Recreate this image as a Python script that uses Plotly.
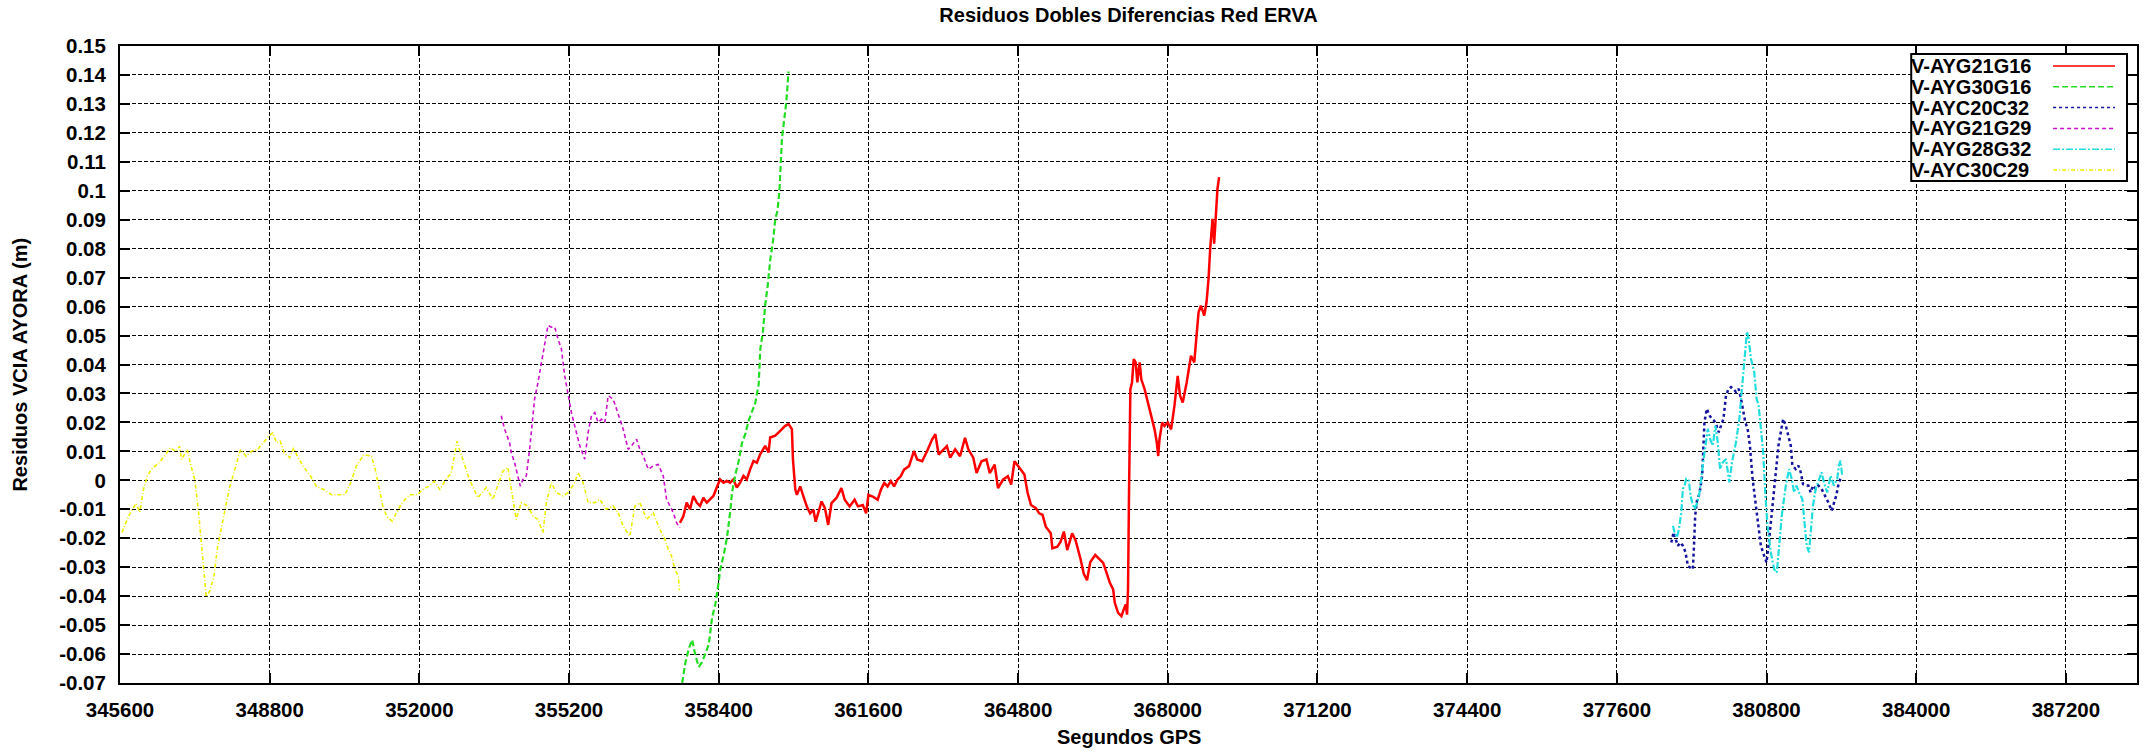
import plotly.graph_objects as go

# ---------------------------------------------------------------- text
title_text = "Residuos Dobles Diferencias Red ERVA"
x_title = "Segundos GPS"
y_title = "Residuos VCIA AYORA (m)"

x_tick_labels = ["345600", "348800", "352000", "355200", "358400", "361600", "364800",
                 "368000", "371200", "374400", "377600", "380800", "384000", "387200"]
y_tick_labels = ["-0.07", "-0.06", "-0.05", "-0.04", "-0.03", "-0.02", "-0.01", "0",
                 "0.01", "0.02", "0.03", "0.04", "0.05", "0.06", "0.07", "0.08", "0.09",
                 "0.1", "0.11", "0.12", "0.13", "0.14", "0.15"]

# ---------------------------------------------------------------- series (GPS seconds, residual in m)
names = ["V-AYG21G16", "V-AYG30G16", "V-AYC20C32", "V-AYG21G29", "V-AYG28G32", "V-AYC30C29"]

t_g21g16 = [357571, 357643, 357714, 357786, 357857, 357929, 358000, 358071, 358143, 358214,
            358286, 358357, 358429, 358500, 358571, 358643, 358714, 358786, 358857, 358929,
            359000, 359071, 359143, 359214, 359286, 359393, 359464, 359500, 359607, 359714,
            359821, 359893, 359964, 359986, 360036, 360071, 360141, 360212, 360282, 360353,
            360423, 360472, 360529, 360599, 360670, 360740, 360811, 360916, 361022, 361093,
            361198, 361304, 361374, 361480, 361551, 361600, 361692, 361797, 361868, 361938,
            362009, 362079, 362150, 362220, 362291, 362361, 362467, 362573, 362643, 362749,
            362855, 362960, 363031, 363101, 363172, 363277, 363348, 363454, 363559, 363665,
            363736, 363841, 363912, 364017, 364123, 364194, 364299, 364370, 364476, 364581,
            364652, 364722, 364828, 364934, 365004, 365075, 365180, 365251, 365321, 365392,
            365498, 365533, 365639, 365709, 365779, 365850, 365956, 366026, 366132, 366202,
            366273, 366343, 366449, 366549, 366619, 366690, 366761, 366832, 366867, 366938,
            367009, 367058, 367101, 367129, 367150, 367172, 367200, 367235, 367271, 367313,
            367349, 367398, 367434, 367504, 367575, 367646, 367717, 367766, 367795, 367823,
            367880, 367929, 368000, 368071, 368142, 368212, 368262, 368319, 368404, 368496,
            368566, 368602, 368658, 368708, 368779, 368828, 368871, 368906, 368956, 368991,
            369027, 369062, 369097]
r_g21g16 = [-0.0147, -0.0124, -0.0077, -0.0100, -0.0054, -0.0077, -0.0089, -0.0060, -0.0077, -0.0066,
            -0.0054, -0.0025, 0.0003, -0.0008, -0.0002, -0.0008, 0.0003, -0.0025, -0.0008, 0.0015,
            0.0003, 0.0038, 0.0067, 0.0061, 0.0090, 0.0119, 0.0096, 0.0148, 0.0154, 0.0171,
            0.0188, 0.0194, 0.0177, 0.0073, -0.0031, -0.0050, -0.0021, -0.0056, -0.0090, -0.0114,
            -0.0102, -0.0143, -0.0108, -0.0073, -0.0096, -0.0154, -0.0079, -0.0061, -0.0027, -0.0067,
            -0.0090, -0.0067, -0.0090, -0.0085, -0.0114, -0.0050, -0.0056, -0.0067, -0.0032, -0.0009,
            -0.0021, -0.0003, -0.0021, 0.0002, 0.0014, 0.0037, 0.0049, 0.0101, 0.0072, 0.0066,
            0.0101, 0.0141, 0.0159, 0.0089, 0.0101, 0.0118, 0.0078, 0.0107, 0.0083, 0.0147,
            0.0107, 0.0078, 0.0025, 0.0066, 0.0072, 0.0025, 0.0054, -0.0027, 0.0002, 0.0014,
            -0.0015, 0.0066, 0.0043, 0.0020, -0.0044, -0.0085, -0.0096, -0.0114, -0.0119, -0.0160,
            -0.0183, -0.0235, -0.0229, -0.0212, -0.0177, -0.0241, -0.0183, -0.0206, -0.0270, -0.0322,
            -0.0345, -0.0282, -0.0258, -0.0273, -0.0285, -0.0319, -0.0354, -0.0377, -0.0423, -0.0458,
            -0.0469, -0.0446, -0.0429, -0.0464, -0.0377, -0.0031, 0.0315, 0.0338, 0.0419, 0.0407,
            0.0338, 0.0407, 0.0349, 0.0315, 0.0269, 0.0223, 0.0176, 0.0130, 0.0084, 0.0142,
            0.0200, 0.0188, 0.0200, 0.0176, 0.0257, 0.0361, 0.0292, 0.0269, 0.0338, 0.0430,
            0.0407, 0.0476, 0.0580, 0.0603, 0.0569, 0.0615, 0.0696, 0.0799, 0.0903, 0.0817,
            0.0926, 0.1007, 0.1047]

t_g30g16 = [357618, 357653, 357689, 357760, 357831, 357902, 357973, 358044, 358116, 358187,
            358258, 358329, 358400, 358436, 358507, 358578, 358649, 358684, 358756, 358827,
            358898, 358969, 359040, 359111, 359182, 359253, 359289, 359346, 359395, 359445,
            359502, 359559, 359609, 359658, 359701, 359751, 359801, 359843, 359893]
r_g30g16 = [-0.0700, -0.0660, -0.0628, -0.0582, -0.0551, -0.0605, -0.0644, -0.0628, -0.0597, -0.0567,
            -0.0474, -0.0427, -0.0350, -0.0304, -0.0257, -0.0196, -0.0103, -0.0042, 0.0020, 0.0067,
            0.0129, 0.0160, 0.0206, 0.0237, 0.0268, 0.0330, 0.0454, 0.0515, 0.0608, 0.0670,
            0.0763, 0.0825, 0.0902, 0.0933, 0.1010, 0.1180, 0.1257, 0.1304, 0.1412]

t_c20c32 = [378764, 378813, 378856, 378906, 378955, 379012, 379069, 379118, 379168, 379225,
            379246, 379275, 379317, 379367, 379424, 379473, 379523, 379580, 379636, 379707,
            379778, 379828, 379878, 379934, 379991, 380041, 380090, 380147, 380204, 380254,
            380303, 380346, 380396, 380445, 380502, 380573, 380630, 380679, 380750, 380800,
            380857, 380914, 380963, 381013, 381055, 381105, 381155, 381212, 381268, 381318,
            381353, 381424, 381481, 381531, 381580, 381637, 381694, 381744, 381793, 381850,
            381907, 381978, 382049, 382120, 382191, 382240, 382290, 382347, 382382]
r_c20c32 = [-0.0215, -0.0180, -0.0203, -0.0226, -0.0215, -0.0226, -0.0249, -0.0296, -0.0301, -0.0307,
            -0.0238, -0.0122, -0.0065, -0.0047, 0.0016, 0.0201, 0.0247, 0.0224, 0.0212, 0.0201,
            0.0166, 0.0189, 0.0212, 0.0293, 0.0316, 0.0322, 0.0316, 0.0305, 0.0316, 0.0282,
            0.0236, 0.0201, 0.0178, 0.0120, 0.0005, -0.0088, -0.0169, -0.0226, -0.0261, -0.0284,
            -0.0203, -0.0111, -0.0042, 0.0028, 0.0120, 0.0166, 0.0212, 0.0189, 0.0155, 0.0120,
            0.0051, 0.0039, 0.0051, 0.0028, -0.0013, -0.0018, -0.0018, -0.0042, -0.0018, -0.0030,
            -0.0018, -0.0030, -0.0053, -0.0076, -0.0105, -0.0082, -0.0053, -0.0007, 0.0005]

t_g21g29 = [353750, 353821, 353929, 353964, 354036, 354107, 354157, 354214, 354286, 354357,
            354464, 354536, 354607, 354679, 354750, 354821, 354893, 354964, 355036, 355107,
            355179, 355250, 355321, 355429, 355536, 355607, 355679, 355750, 355821, 355893,
            355964, 356036, 356143, 356214, 356286, 356357, 356464, 356536, 356643, 356714,
            356786, 356893, 357000, 357107, 357214, 357286, 357357, 357429, 357500, 357571]
r_g21g29 = [0.0223, 0.0177, 0.0130, 0.0096, 0.0061, 0.0015, -0.0020, 0.0003, 0.0015, 0.0107,
            0.0281, 0.0338, 0.0408, 0.0477, 0.0535, 0.0529, 0.0529, 0.0488, 0.0454, 0.0361,
            0.0292, 0.0234, 0.0188, 0.0119, 0.0073, 0.0165, 0.0223, 0.0234, 0.0200, 0.0211,
            0.0200, 0.0292, 0.0281, 0.0246, 0.0211, 0.0177, 0.0107, 0.0119, 0.0142, 0.0107,
            0.0084, 0.0038, 0.0050, 0.0055, 0.0015, -0.0066, -0.0089, -0.0112, -0.0147, -0.0164]

t_g28g32 = [378799, 378835, 378884, 378927, 378977, 379012, 379048, 379083, 379140, 379175,
            379211, 379260, 379310, 379367, 379438, 379495, 379544, 379594, 379651, 379707,
            379757, 379807, 379863, 379934, 380005, 380062, 380147, 380218, 380289, 380346,
            380381, 380417, 380467, 380537, 380587, 380630, 380679, 380729, 380772, 380821,
            380892, 380963, 381020, 381070, 381126, 381212, 381282, 381339, 381389, 381439,
            381495, 381566, 381616, 381658, 381708, 381758, 381793, 381850, 381921, 381978,
            382027, 382098, 382169, 382240, 382311, 382347, 382382, 382418]
r_g28g32 = [-0.0157, -0.0180, -0.0197, -0.0169, -0.0111, -0.0030, -0.0018, 0.0005, -0.0001, -0.0053,
            -0.0076, -0.0099, -0.0082, -0.0042, 0.0051, 0.0120, 0.0178, 0.0143, 0.0120, 0.0189,
            0.0132, 0.0039, 0.0062, 0.0074, -0.0007, 0.0062, 0.0132, 0.0212, 0.0340, 0.0432,
            0.0513, 0.0490, 0.0420, 0.0374, 0.0282, 0.0259, 0.0189, 0.0097, -0.0042, -0.0157,
            -0.0249, -0.0307, -0.0319, -0.0226, -0.0122, -0.0018, 0.0039, 0.0005, -0.0042, -0.0018,
            -0.0042, -0.0065, -0.0157, -0.0226, -0.0249, -0.0157, -0.0088, -0.0030, 0.0005, 0.0028,
            -0.0007, -0.0042, 0.0016, -0.0018, 0.0005, 0.0051, 0.0068, 0.0016]

t_c30c29 = [345640, 345779, 345941, 346022, 346103, 346185, 346266, 346428, 346550, 346672,
            346794, 346875, 346916, 347038, 347119, 347200, 347281, 347362, 347444, 347525,
            347606, 347687, 347809, 347931, 348053, 348175, 348296, 348418, 348540, 348662,
            348784, 348865, 348946, 349027, 349109, 349230, 349312, 349393, 349515, 349677,
            349799, 349961, 350124, 350246, 350408, 350530, 350652, 350814, 350977, 351058,
            351139, 351220, 351302, 351423, 351505, 351626, 351789, 351951, 352073, 352195,
            352317, 352439, 352560, 352682, 352804, 352857, 353071, 353250, 353429, 353571,
            353786, 353893, 353964, 354071, 354179, 354321, 354429, 354536, 354643, 354714,
            354821, 354929, 355071, 355179, 355321, 355393, 355500, 355607, 355750, 355857,
            356000, 356143, 356250, 356357, 356500, 356607, 356714, 356857, 357000, 357143,
            357250, 357321, 357393, 357464, 357536, 357560]
r_c30c29 = [-0.0180, -0.0125, -0.0080, -0.0110, -0.0030, 0.0014, 0.0037, 0.0060, 0.0083, 0.0112,
            0.0100, 0.0118, 0.0072, 0.0106, 0.0049, 0.0002, -0.0113, -0.0252, -0.0403, -0.0380,
            -0.0333, -0.0230, -0.0137, -0.0032, 0.0037, 0.0106, 0.0083, 0.0101, 0.0106, 0.0130,
            0.0153, 0.0164, 0.0130, 0.0135, 0.0095, 0.0078, 0.0112, 0.0083, 0.0049, 0.0014,
            -0.0021, -0.0032, -0.0050, -0.0050, -0.0050, -0.0009, 0.0049, 0.0089, 0.0083, 0.0037,
            -0.0021, -0.0090, -0.0125, -0.0142, -0.0113, -0.0079, -0.0050, -0.0050, -0.0032, -0.0021,
            -0.0003, -0.0032, 0.0002, 0.0025, 0.0135, 0.0107, 0.0003, -0.0060, -0.0025, -0.0066,
            0.0032, 0.0044, -0.0031, -0.0135, -0.0077, -0.0089, -0.0124, -0.0135, -0.0181, -0.0077,
            -0.0008, -0.0043, -0.0054, -0.0043, -0.0008, 0.0027, -0.0008, -0.0077, -0.0077, -0.0066,
            -0.0100, -0.0089, -0.0112, -0.0158, -0.0193, -0.0089, -0.0077, -0.0135, -0.0112, -0.0170,
            -0.0204, -0.0239, -0.0262, -0.0308, -0.0331, -0.0380]

series_t = [t_g21g16, t_g30g16, t_c20c32, t_g21g29, t_g28g32, t_c30c29]
series_r = [r_g21g16, r_g30g16, r_c20c32, r_g21g29, r_g28g32, r_c30c29]

# ---------------------------------------------------------------- styles
colors = ["#ff0000", "#22dd22", "#14149e", "#cc11cc", "#22dddd", "#eeee00"]
dashes = ["solid", "6px,3px", "3px,3px", "4px,3px", "7px,2px,2px,2px", "4px,2px,1px,2px"]
widths = [2.5, 2.2, 2.5, 1.6, 2.2, 1.6]

W, H = 2147, 754
L, R, T, B = 120, 2139, 46, 683   # plot area in pixels
PW, PH = R - L, B - T


def px(x):
    return (x - L) / PW


def py(y):
    return (B - y) / PH


FONT = "Liberation Sans, Arial, sans-serif"
TXT = dict(family=FONT, size=20, color="black", weight="bold")

fig = go.Figure()
for name, t, r, c, d, w in zip(names, series_t, series_r, colors, dashes, widths):
    fig.add_trace(go.Scatter(x=t, y=r, mode="lines", name=name,
                             line=dict(color=c, width=w, dash=d), showlegend=False))

x_ticks = [int(v) for v in x_tick_labels]
y_ticks = [float(v) for v in y_tick_labels]

axis_common = dict(
    showline=True, linecolor="black", linewidth=2, mirror="ticks",
    ticks="inside", ticklen=10, tickwidth=2, tickcolor="black",
    showgrid=True, gridcolor="black", gridwidth=1, griddash="4px,2px",
    zeroline=False,
    tickfont=dict(family=FONT, size=20.5, color="black", weight="bold"),
)

fig.update_xaxes(range=[345600, 388720], tickmode="array", tickvals=x_ticks,
                 ticktext=x_tick_labels, ticklabelstandoff=7, **axis_common)
fig.update_yaxes(range=[-0.07, 0.15], tickmode="array", tickvals=y_ticks,
                 ticktext=y_tick_labels, ticklabelstandoff=8, **axis_common)

# key box in the upper right corner: label first, then line sample
key_left, key_right, key_top = 1913, 2129, 54
row0, row_step = 66, 20.8
shapes = [dict(type="rect", xref="paper", yref="paper",
               x0=px(key_left), x1=px(key_right), y0=py(row0 + 5 * row_step + 11), y1=py(key_top),
               line=dict(color="black", width=2), fillcolor="white", layer="above")]
annotations = []
for i, (name, c, d, w) in enumerate(zip(names, colors, dashes, widths)):
    yc = row0 + i * row_step
    shapes.append(dict(type="line", xref="paper", yref="paper",
                       x0=px(2055), x1=px(2117), y0=py(yc), y1=py(yc),
                       line=dict(color=c, width=1.5, dash=d), layer="above"))
    annotations.append(dict(text=name, xref="paper", yref="paper", x=px(key_left - 2), y=py(yc),
                            xanchor="left", yanchor="middle", showarrow=False, font=TXT))

annotations.append(dict(text=x_title, xref="paper", yref="paper", x=0.5, y=py(737),
                        xanchor="center", yanchor="middle", showarrow=False, font=TXT))
annotations.append(dict(text=y_title, xref="paper", yref="paper", x=px(19), y=0.5,
                        xanchor="center", yanchor="middle", showarrow=False, textangle=-90,
                        font=TXT))

fig.update_layout(
    width=W, height=H,
    margin=dict(l=L, r=W - R, t=T, b=H - B),
    paper_bgcolor="white", plot_bgcolor="white",
    title=dict(text=title_text, x=0.5, xref="paper", xanchor="center",
               y=1 - 15 / H, yref="container", yanchor="middle", font=TXT),
    shapes=shapes, annotations=annotations, showlegend=False,
)

fig.write_html("out.html")
